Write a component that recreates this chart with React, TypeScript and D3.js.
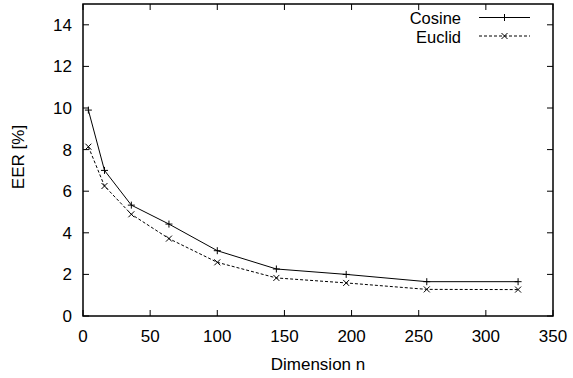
import React from "react";
import * as d3 from "d3";

const dims = [4, 16, 36, 64, 100, 144, 196, 256, 324];
const cosine = [9.9, 7.0, 5.33, 4.42, 3.14, 2.26, 2.0, 1.65, 1.65];
const euclid = [8.14, 6.25, 4.89, 3.72, 2.58, 1.83, 1.59, 1.28, 1.27];
const xTicks = [0, 50, 100, 150, 200, 250, 300, 350];
const yTicks = [0, 2, 4, 6, 8, 10, 12, 14];

const W = 573, H = 378;
const L = 83, R = 553, T = 4, B = 316;
const FONT = "'Liberation Sans', Arial, Helvetica, sans-serif";

export default function App() {
  const x = d3.scaleLinear().domain([0, 350]).range([L, R]);
  const y = d3.scaleLinear().domain([0, 15]).range([B, T]);
  const line = d3.line<number>().x((_, i) => x(dims[i])).y((d) => y(d));
  const tk = 6;
  const plus = (cx: number, cy: number, k: string) => (
    <path key={k} d={`M${cx - 3.5},${cy}H${cx + 3.5}M${cx},${cy - 3.5}V${cy + 3.5}`} stroke="#000" strokeWidth={1} />
  );
  const cross = (cx: number, cy: number, k: string) => (
    <path key={k} d={`M${cx - 3},${cy - 3}L${cx + 3},${cy + 3}M${cx - 3},${cy + 3}L${cx + 3},${cy - 3}`} stroke="#000" strokeWidth={1} />
  );
  return (
    <svg width={W} height={H} style={{ position: "absolute", left: 0, top: 0, background: "#fff" }} fontFamily={FONT}>
      <rect x={0} y={0} width={W} height={H} fill="#fff" />
      {yTicks.map((t) => (
        <g key={"y" + t}>
          <path d={`M${L},${y(t)}h${tk}M${R},${y(t)}h${-tk}`} stroke="#000" />
          <text x={L - 11} y={y(t) + 6} textAnchor="end" fontSize={17}>{t}</text>
        </g>
      ))}
      {xTicks.map((t) => (
        <g key={"x" + t}>
          <path d={`M${x(t)},${B}v${-tk}M${x(t)},${T}v${tk}`} stroke="#000" />
          <text x={x(t)} y={B + 26} textAnchor="middle" fontSize={17}>{t}</text>
        </g>
      ))}
      <path d={line(cosine) || ""} fill="none" stroke="#000" strokeWidth={1} />
      <path d={line(euclid) || ""} fill="none" stroke="#000" strokeWidth={1} strokeDasharray="3,2" />
      {cosine.map((v, i) => plus(x(dims[i]), y(v), "c" + i))}
      {euclid.map((v, i) => cross(x(dims[i]), y(v), "e" + i))}
      <rect x={L} y={T} width={R - L} height={B - T} fill="none" stroke="#000" strokeWidth={1.5} />
      <text x={461} y={24} textAnchor="end" fontSize={16.5}>Cosine</text>
      <path d="M479,17.5H530" stroke="#000" />
      {plus(504.5, 17.5, "lc")}
      <text x={461} y={42.5} textAnchor="end" fontSize={16.5}>Euclid</text>
      <path d="M479,36H530" stroke="#000" strokeDasharray="3,2" />
      {cross(504.5, 36, "le")}
      <text x={(L + R) / 2} y={370} textAnchor="middle" fontSize={17}>Dimension n</text>
      <text transform={`translate(24,157) rotate(-90)`} textAnchor="middle" fontSize={17}>EER [%]</text>
    </svg>
  );
}
